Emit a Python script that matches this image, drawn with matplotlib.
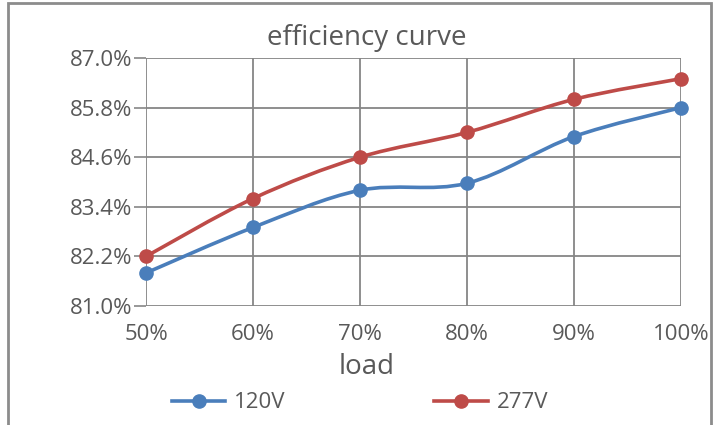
import numpy as np
import matplotlib.pyplot as plt
from matplotlib.path import Path
from matplotlib.patches import PathPatch, Rectangle
from matplotlib.lines import Line2D

load = [50, 60, 70, 80, 90, 100]
load_labels = ["50%", "60%", "70%", "80%", "90%", "100%"]
eff_120v = [81.8, 82.9, 83.8, 83.97, 85.1, 85.8]
eff_277v = [82.2, 83.6, 84.6, 85.2, 86.0, 86.5]
y_ticks = [81.0, 82.2, 83.4, 84.6, 85.8, 87.0]

BLUE = "#4A7EBB"
RED = "#BE4B48"
TXT = "#595959"
GRID = "#868686"

plt.rcParams['font.family'] = ['Open Sans', 'DejaVu Sans']


def smooth_path(x, y):
    # excel-like smoothed line: cubic bezier segments through the points
    pts = np.column_stack([x, y]).astype(float)
    n = len(pts)
    verts = [pts[0]]
    codes = [Path.MOVETO]
    for i in range(n - 1):
        p0 = pts[i - 1] if i > 0 else pts[i]
        p1 = pts[i]
        p2 = pts[i + 1]
        p3 = pts[i + 2] if i + 2 < n else pts[i + 1]
        verts += [p1 + (p2 - p0) / 6, p2 - (p3 - p1) / 6, p2]
        codes += [Path.CURVE4] * 3
    return Path(verts, codes)


fig = plt.figure(figsize=(7.24, 4.25), dpi=100)
ax = fig.add_axes([146 / 724, 1 - 306 / 425, 535 / 724, 248 / 425])

for vals, col in [(eff_120v, BLUE), (eff_277v, RED)]:
    ax.add_patch(PathPatch(smooth_path(load, vals), facecolor="none",
                           edgecolor=col, lw=2.6, capstyle="round", zorder=3,
                           clip_on=False))
    ax.plot(load, vals, "o", color=col, ms=9.5, zorder=4, clip_on=False)

ax.set_xlim(50, 100)
ax.set_ylim(81.0, 87.0)
ax.set_xticks(load)
ax.set_xticklabels(load_labels)
ax.set_yticks(y_ticks)
ax.set_yticklabels([f"{v:.1f}%" for v in y_ticks])
ax.grid(True, color=GRID, lw=1.3)
ax.set_axisbelow(True)
for s in ax.spines.values():
    s.set_visible(False)
ax.tick_params(axis="y", length=9, width=1.2, color=GRID, labelcolor=TXT,
               labelsize=16, pad=1)
ax.tick_params(axis="x", length=0, labelcolor=TXT, labelsize=16, pad=13)

# title and axis label are centred on the chart area, not the plot area
cx = (367 - 146) / 535
ax.set_title("efficiency curve", fontsize=20, color=TXT, pad=9, x=cx)
ax.set_xlabel("load", fontsize=20, color=TXT)
ax.xaxis.set_label_coords(cx, -0.19)

handles = [Line2D([], [], color=BLUE, lw=2.6, marker="o", ms=9.5),
           Line2D([], [], color=RED, lw=2.6, marker="o", ms=9.5)]
fig.legend(handles, ["120V", "277V"], loc="center", ncol=2,
           bbox_to_anchor=(360 / 724, 1 - 403 / 425), frameon=False,
           fontsize=16, labelcolor=TXT, handlelength=2.4, handletextpad=0.4,
           columnspacing=6.7)

# outer frame
fig.patches.append(Rectangle((8 / 724, -0.1), 703 / 724, 1.1 - 3 / 425,
                             transform=fig.transFigure, fill=False,
                             edgecolor="#8C8C8C", lw=2))

fig.savefig("out.png", dpi=100)
